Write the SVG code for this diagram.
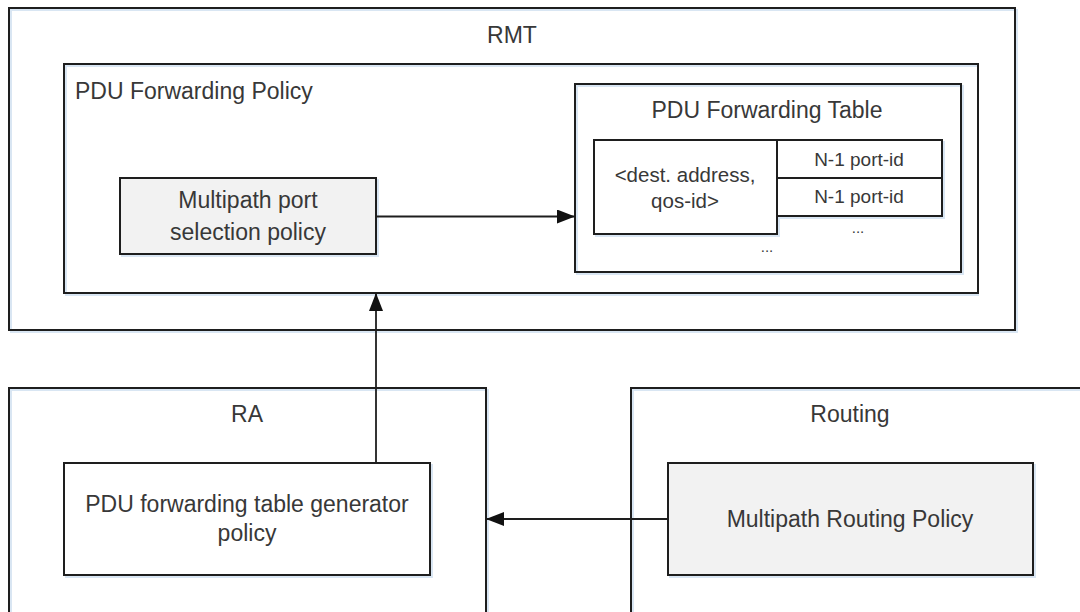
<svg xmlns="http://www.w3.org/2000/svg" width="1080" height="612" viewBox="0 0 1080 612">
  <style>
    .box { fill: none; stroke: #1e1e1e; stroke-width: 2; }
    .grey { fill: #f2f2f2; stroke: #1e1e1e; stroke-width: 2; }
    .white { fill: #ffffff; stroke: #1e1e1e; stroke-width: 2; }
    .shadow { fill: none; stroke: #d9e6f3; stroke-width: 2; }
    .t { font-family: "Liberation Sans", Arial, sans-serif; fill: #383838; text-anchor: middle; }
    .big { font-size: 23px; }
    .mid { font-size: 20.5px; }
    .small { font-size: 19px; }
    .tiny { font-size: 15px; }
    .wire { fill: none; stroke: #1e1e1e; stroke-width: 1.8; }
  </style>
  <defs>
    <marker id="head" viewBox="0 0 18 14" refX="18" refY="7" markerWidth="18" markerHeight="14" markerUnits="userSpaceOnUse" orient="auto">
      <path d="M0,0 L18,7 L0,14 Z" fill="#111"/>
    </marker>
  </defs>
  <rect width="1080" height="612" fill="#ffffff"/>

  <!-- RMT container -->
  <g id="rmt">
    <rect class="shadow" x="11" y="10" width="1006" height="322"/>
    <rect class="box" x="9" y="8" width="1006" height="322"/>
    <text class="t big" x="512" y="43">RMT</text>
  </g>

  <!-- forwarding policy inside RMT -->
  <g id="fwd-policy">
    <rect class="shadow" x="66" y="66" width="912" height="229"/>
    <rect class="box" x="64" y="64" width="914" height="229"/>
    <text class="t big" x="75" y="99" style="text-anchor:start">PDU Forwarding Policy</text>
  </g>

  <g id="port-selection">
    <rect class="shadow" x="122" y="180" width="256" height="76"/>
    <rect class="grey" x="120" y="178" width="256" height="76"/>
    <text class="t big" x="248" y="208">Multipath port</text>
    <text class="t big" x="248" y="240">selection policy</text>
  </g>

  <g id="fwd-table">
    <rect class="shadow" x="577" y="86" width="386" height="188"/>
    <rect class="box" x="575" y="84" width="386" height="188"/>
    <text class="t big" x="767" y="118">PDU Forwarding Table</text>
  </g>

  <g id="table-key">
    <rect class="shadow" x="596" y="142" width="183" height="94"/>
    <rect class="white" x="594" y="140" width="183" height="94"/>
    <text class="t mid" x="685" y="182">&lt;dest. address,</text>
    <text class="t mid" x="685" y="208">qos-id&gt;</text>
    <text class="t tiny" x="767" y="252">...</text>
  </g>

  <g id="port-rows">
    <rect class="shadow" x="779" y="142" width="165" height="76"/>
    <rect class="white" x="777" y="140" width="165" height="38"/>
    <rect class="white" x="777" y="178" width="165" height="38"/>
    <text class="t small" x="859" y="166">N-1 port-id</text>
    <text class="t small" x="859" y="203">N-1 port-id</text>
    <text class="t tiny" x="858" y="233">...</text>
  </g>

  <!-- RA container -->
  <g id="ra">
    <rect class="shadow" x="11" y="390" width="477" height="240"/>
    <rect class="box" x="9" y="388" width="477" height="240"/>
    <text class="t big" x="247" y="422">RA</text>
  </g>

  <g id="table-generator">
    <rect class="shadow" x="66" y="465" width="366" height="112"/>
    <rect class="white" x="64" y="463" width="366" height="112"/>
    <text class="t big" x="247" y="512">PDU forwarding table generator</text>
    <text class="t big" x="247" y="541">policy</text>
  </g>

  <!-- Routing container -->
  <g id="routing">
    <rect class="shadow" x="633" y="390" width="470" height="240"/>
    <rect class="box" x="631" y="388" width="470" height="240"/>
    <text class="t big" x="850" y="422">Routing</text>
  </g>

  <g id="multipath-routing">
    <rect class="shadow" x="670" y="465" width="365" height="112"/>
    <rect class="grey" x="668" y="463" width="365" height="112"/>
    <text class="t big" x="850" y="527">Multipath Routing Policy</text>
  </g>

  <!-- connectors -->
  <g id="connectors">
    <path class="wire" d="M376,216.5 L575,216.5" marker-end="url(#head)"/>
    <path class="wire" d="M376,463 L376,293" marker-end="url(#head)"/>
    <path class="wire" d="M668,519 L486,519" marker-end="url(#head)"/>
  </g>
</svg>
